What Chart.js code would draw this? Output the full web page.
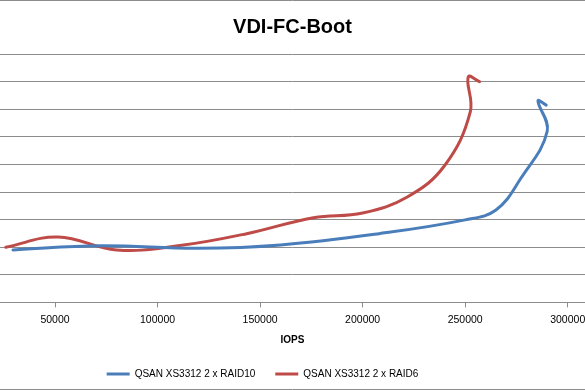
<!DOCTYPE html>
<html><head><meta charset="utf-8">
<script src="https://cdn.jsdelivr.net/npm/chart.js@4"></script>
<style>
html,body{margin:0;padding:0;background:#fff;}
#wrap{position:relative;width:585px;height:390px;overflow:hidden;background:#fff;}
canvas{display:block;}
</style>
</head><body>
<div id="wrap"><canvas id="c" width="585" height="390"></canvas></div>
<script>
const chartTitle = 'VDI-FC-Boot';
const xAxisTitle = 'IOPS';
const seriesNames = ['QSAN XS3312 2 x RAID10', 'QSAN XS3312 2 x RAID6'];
const seriesColors = ['#4A7EBB', '#BE4B48'];

const raid10Iops    = [29500, 72000, 120000, 160000, 208000, 250000, 265000, 277000, 290000, 285500, 289500];
const raid10Latency = [1.90,  2.05,  1.96,   2.08,   2.49,   2.99,   3.35,   4.48,   6.20,   7.30,   7.15];

const raid6Iops     = [26000, 51500, 80000, 110000, 143500, 176000, 200000, 222000, 240000, 252500, 251500, 257000];
const raid6Latency  = [2.00,  2.37,  1.90,  2.05,   2.49,   3.07,   3.24,   3.83,   4.96,   6.90,   8.17,   8.00];

const xTickValues = [50000, 100000, 150000, 200000, 250000, 300000];
const xMin = 23180, xMax = 308430;
const yMin = 0, yMax = 9, yStep = 1;

const LEGEND_DX = -30, LEGEND_DY = 3;
const GRID = '#8c8c8c';

function toPoints(xs, ys) { return xs.map((x, i) => ({x: x, y: ys[i]})); }

const framePlugin = {
  id: 'frame',
  afterLayout(chart) {
    const lg = chart.legend;
    if (lg) { lg.left += LEGEND_DX; lg.right += LEGEND_DX; lg.top += LEGEND_DY; lg.bottom += LEGEND_DY; }
  },
  afterDraw(chart) {
    const ctx = chart.ctx;
    ctx.save();
    ctx.strokeStyle = GRID; ctx.lineWidth = 1;
    ctx.beginPath();
    ctx.moveTo(0, 0.5); ctx.lineTo(chart.width, 0.5);
    ctx.moveTo(0, 389.5); ctx.lineTo(chart.width, 389.5);
    ctx.stroke();
    ctx.restore();
  }
};

new Chart(document.getElementById('c'), {
  type: 'scatter',
  data: {
    datasets: [
      { label: seriesNames[0], data: toPoints(raid10Iops, raid10Latency), showLine: true,
        borderColor: seriesColors[0], backgroundColor: seriesColors[0], borderWidth: 3,
        pointRadius: 0, pointHoverRadius: 0, tension: 0.4, borderCapStyle: 'round', borderJoinStyle: 'round' },
      { label: seriesNames[1], data: toPoints(raid6Iops, raid6Latency), showLine: true,
        borderColor: seriesColors[1], backgroundColor: seriesColors[1], borderWidth: 3,
        pointRadius: 0, pointHoverRadius: 0, tension: 0.4, borderCapStyle: 'round', borderJoinStyle: 'round' }
    ]
  },
  options: {
    responsive: false,
    animation: false,
    events: [],
    layout: { padding: { left: 0, right: 0, top: 0, bottom: 4 } },
    plugins: {
      title: { display: true, text: chartTitle, color: '#000',
        font: { family: 'Liberation Sans', size: 20, weight: 'bold' },
        padding: { top: 15, bottom: 15 } },
      legend: { display: true, position: 'bottom',
        labels: { color: '#000', font: { family: 'Liberation Sans', size: 10 },
          boxWidth: 23, boxHeight: 3, padding: 20,
          generateLabels(chart) {
            const items = Chart.defaults.plugins.legend.labels.generateLabels(chart);
            items.forEach(it => { it.lineWidth = 0; it.fillStyle = it.strokeStyle; });
            return items;
          } } },
      tooltip: { enabled: false }
    },
    scales: {
      x: { type: 'linear', position: 'bottom', min: xMin, max: xMax,
        afterBuildTicks(scale) { scale.ticks = xTickValues.map(v => ({value: v})); },
        afterFit(scale) { scale.paddingLeft = 0; scale.paddingRight = 0; },
        ticks: { color: '#000', font: { family: 'Liberation Sans', size: 10.5 }, padding: 6,
          maxRotation: 0, autoSkip: false, callback: v => String(v) },
        grid: { display: true, drawOnChartArea: false, drawTicks: true, tickLength: 5, color: GRID },
        border: { display: true, color: GRID, width: 1 },
        title: { display: true, text: xAxisTitle, color: '#000',
          font: { family: 'Liberation Sans', size: 10, weight: 'bold' }, padding: { top: 2, bottom: 0 } } },
      y: { type: 'linear', min: yMin, max: yMax,
        afterFit(scale) { scale.width = 0; },
        ticks: { display: false, stepSize: yStep },
        grid: { color: GRID, drawTicks: false, lineWidth: 1 },
        border: { display: false } }
    }
  },
  plugins: [framePlugin]
});
</script>
</body></html>
